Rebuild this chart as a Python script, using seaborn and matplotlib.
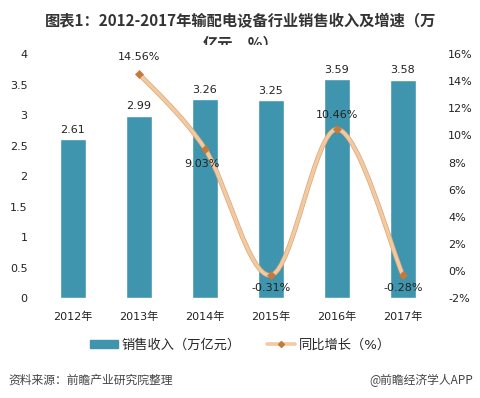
import numpy as np
import matplotlib
matplotlib.use("Agg")
import matplotlib.pyplot as plt
from matplotlib.path import Path
from matplotlib.patches import PathPatch, Rectangle
from matplotlib.lines import Line2D
from matplotlib.ticker import FuncFormatter
import seaborn as sns

# data
years = ["2012年", "2013年", "2014年", "2015年", "2016年", "2017年"]
revenue = [2.61, 2.99, 3.26, 3.25, 3.59, 3.58]
growth = [np.nan, 14.56, 9.03, -0.31, 10.46, -0.28]

title = "图表1：2012-2017年输配电设备行业销售收入及增速（万\n亿元，%）"
bar_label = "销售收入（万亿元）"
line_label = "同比增长（%）"
source = "资料来源：前瞻产业研究院整理"
brand = "@前瞻经济学人APP"

bar_color = "#3F95AE"
line_color = "#F2C9A0"
marker_color = "#C47A3A"

sns.set_style("white")
plt.rcParams["font.family"] = ["DejaVu Sans", "Noto Sans CJK SC"]

fig = plt.figure(figsize=(4.81, 3.98), dpi=100)
ax = fig.add_axes([0.083, 0.251, 0.823, 0.613])

sns.barplot(x=years, y=revenue, color=bar_color, saturation=1, width=0.4, ax=ax)
ax.set_ylim(0, 4)
ax.set_yticks(np.arange(0, 4.01, 0.5))
ax.yaxis.set_major_formatter(FuncFormatter(lambda v, p: f"{v:g}"))
for i, v in enumerate(revenue):
    ax.text(i, v + 0.07, f"{v:.2f}", ha="center", va="bottom", fontsize=8, color="#222222")

ax2 = ax.twinx()
ax2.set_ylim(-2, 16)
ax2.set_yticks(np.arange(-2, 16.1, 2))
ax2.yaxis.set_major_formatter(FuncFormatter(lambda v, p: f"{v:.0f}%"))

# smoothed line through the growth points (Catmull-Rom style bezier)
pts = [(i, g) for i, g in enumerate(growth) if not np.isnan(g)]
xs = np.array([p[0] for p in pts], dtype=float)
ys = np.array([p[1] for p in pts], dtype=float)
verts = [(xs[0], ys[0])]
codes = [Path.MOVETO]
n = len(xs)
for k in range(n - 1):
    x0, y0 = (xs[k - 1], ys[k - 1]) if k > 0 else (xs[k], ys[k])
    x3, y3 = (xs[k + 2], ys[k + 2]) if k + 2 < n else (xs[k + 1], ys[k + 1])
    c1 = (xs[k] + (xs[k + 1] - x0) / 6, ys[k] + (ys[k + 1] - y0) / 6)
    c2 = (xs[k + 1] - (x3 - xs[k]) / 6, ys[k + 1] - (y3 - ys[k]) / 6)
    verts += [c1, c2, (xs[k + 1], ys[k + 1])]
    codes += [Path.CURVE4] * 3
curve = Path(verts, codes)
ax2.add_patch(PathPatch(curve, fill=False, edgecolor="#D9A878", lw=3.4, zorder=3))
ax2.add_patch(PathPatch(curve, fill=False, edgecolor=line_color, lw=2.4, zorder=3))
sns.scatterplot(x=xs, y=ys, marker="D", s=18, color=marker_color, edgecolor=marker_color,
                ax=ax2, zorder=4, legend=False)

offsets = {2: (-0.05, -0.8, "top"), 3: (0, -0.6, "top"),
           4: (0, 0.7, "bottom"), 5: (0, -0.6, "top")}
for i, g in zip(xs.astype(int), ys):
    if i == 1:
        ax2.text(i, 15.4, f"{g:.2f}%", ha="center", va="bottom", fontsize=8, color="#222222")
    else:
        dx, dy, va = offsets[i]
        ax2.text(i + dx, g + dy, f"{g:.2f}%", ha="center", va=va, fontsize=8, color="#222222")

for a in (ax, ax2):
    sns.despine(ax=a, left=True, right=True, top=True, bottom=True)
    a.tick_params(length=0, labelsize=8, colors="#222222")
    a.set_xlabel("")
    a.set_ylabel("")
    a.grid(False)
ax.tick_params(axis="y", pad=9)
ax2.tick_params(axis="y", pad=9)
ax.tick_params(axis="x", pad=10)
ax.set_xlim(-0.5, 5.5)

handles = [
    Rectangle((0, 0), 1, 1, color=bar_color),
    Line2D([], [], color=line_color, lw=2.6, marker="D", markersize=3,
           markerfacecolor=marker_color, markeredgecolor=marker_color),
]
fig.legend(handles, [bar_label, line_label], loc="center", bbox_to_anchor=(0.5, 1 - 345 / 398),
           ncol=2, frameon=False, fontsize=9.5, handlelength=2.1, handleheight=0.55,
           columnspacing=2.0, handletextpad=0.3)

# title: second line is partly hidden behind the white plot region, as in the source
fig.text(0.5, 1 - 13 / 398, title, ha="center", va="top", fontsize=11, fontweight="bold",
         family=["Noto Sans CJK SC"], color="#333333", linespacing=1.5, zorder=-2)
fig.patches.append(Rectangle((0, 0), 1, 1 - 45 / 398, transform=fig.transFigure,
                             facecolor="white", edgecolor="none", zorder=-1))

fig.text(8 / 481, 1 - 380 / 398, source, ha="left", va="center", fontsize=8.5,
         family=["Noto Sans CJK SC"], color="#444444")
fig.text(473 / 481, 1 - 380 / 398, brand, ha="right", va="center", fontsize=8.5,
         family=["Noto Sans CJK SC"], color="#444444")

fig.savefig("out.png", dpi=100)
